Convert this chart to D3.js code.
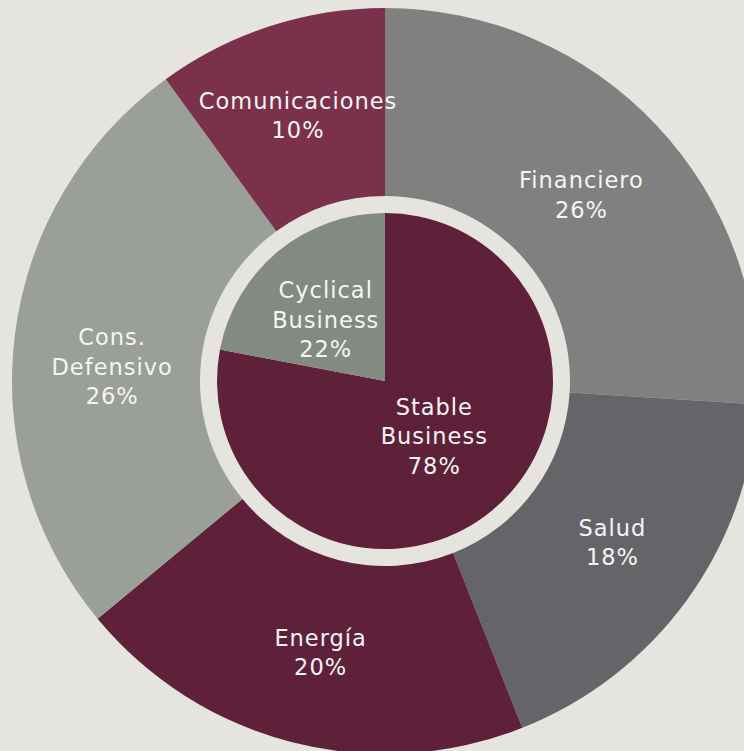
<!DOCTYPE html>
<html><head><meta charset="utf-8">
<script src="https://cdn.jsdelivr.net/npm/d3@7"></script>
<style>
html,body{margin:0;padding:0;background:#e5e4de;overflow:hidden}
svg{display:block}
text{font-family:"DejaVu Sans",sans-serif;fill:#f6f5f2;font-weight:normal;letter-spacing:1px}
</style></head>
<body>
<svg id="c" width="744" height="751"></svg>
<script>
// Outer ring (sectors)
const outerLabels = ["Financiero", "Salud", "Energía", "Cons.\nDefensivo", "Comunicaciones"];
const outerValues = [26, 18, 20, 26, 10];
const outerColors = ["#808080", "#646569", "#5f2039", "#9a9f97", "#7b304b"];
// Inner pie
const innerLabels = ["Stable\nBusiness", "Cyclical\nBusiness"];
const innerValues = [78, 22];
const innerColors = ["#5f2039", "#828a81"];

const W = 744, H = 751;
const cx = 385, cy = 381;
const R = 373, Rin = 185, rPie = 168;

const svg = d3.select("#c");
svg.append("rect").attr("width", W).attr("height", H).attr("fill", "#e5e4de");
const g = svg.append("g").attr("transform", `translate(${cx},${cy})`);

const pie = d3.pie().sort(null).value(d => d.v);
const outerData = pie(outerValues.map((v, i) => ({v, label: outerLabels[i], color: outerColors[i]})));
const innerData = pie(innerValues.map((v, i) => ({v, label: innerLabels[i], color: innerColors[i]})));

const arcOuter = d3.arc().innerRadius(Rin).outerRadius(R);
const arcInner = d3.arc().innerRadius(0).outerRadius(rPie);

g.selectAll("path.o").data(outerData).join("path").attr("class", "o")
  .attr("d", arcOuter).attr("fill", d => d.data.color);
g.selectAll("path.i").data(innerData).join("path").attr("class", "i")
  .attr("d", arcInner).attr("fill", d => d.data.color);

// label placement (layout tweaks kept separate from data)
const outerLabelR = 275;
const innerLabelR = 82;
const outerNudge = [[-4, 2], [5, 0], [4, 5], [0, 20], [-2, -4]];
const innerNudge = [[-3, -8], [-7, 2]];
const lineH = 29.5;
const fs = 22.5;

function drawLabels(data, radius, nudge) {
  const a = d3.arc().innerRadius(radius).outerRadius(radius);
  data.forEach((d, i) => {
    const [x, y] = a.centroid(d);
    const lines = d.data.label.split("\n").concat([d.data.v + "%"]);
    const n = lines.length;
    const x0 = x + nudge[i][0], y0 = y + nudge[i][1];
    const t = g.append("text").attr("text-anchor", "middle")
      .attr("font-size", fs);
    lines.forEach((ln, k) => {
      t.append("tspan").attr("x", x0)
        .attr("y", y0 + (k - (n - 1) / 2) * lineH)
        .attr("dy", "0.36em").text(ln);
    });
  });
}
drawLabels(outerData, outerLabelR, outerNudge);
drawLabels(innerData, innerLabelR, innerNudge);
</script>
</body></html>
